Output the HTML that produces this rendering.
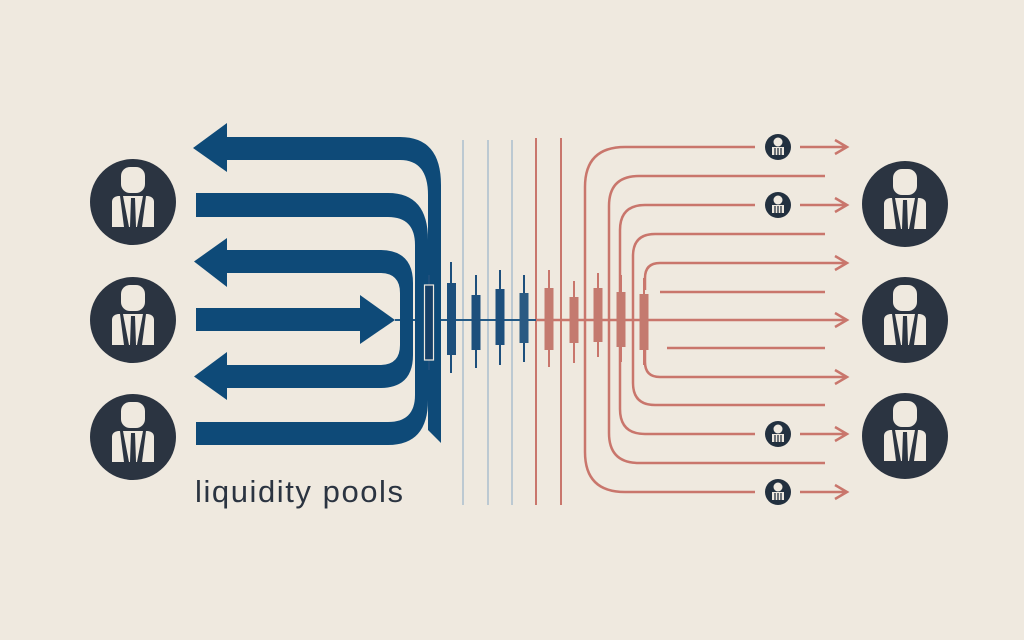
<!DOCTYPE html>
<html><head><meta charset="utf-8"><style>
html,body{margin:0;padding:0;background:#efe9df;}
svg{display:block}
</style></head><body>
<svg width="1024" height="640" viewBox="0 0 1024 640" xmlns="http://www.w3.org/2000/svg">
<defs>
<g id="p">
<circle r="43" fill="#2b3441"/>
<rect x="-12" y="-35" width="24" height="26" rx="9" fill="#efe9df"/>
<path d="M-21,25 V0 Q-21,-5 -15,-6 H15 Q21,-5 21,0 V25 Z" fill="#efe9df"/>
<path d="M-13,-6 L-10,-6 L-4,25 L-9,25 Z M13,-6 L10,-6 L4,25 L9,25 Z M-2,-4 H2 L3,25 H-3 Z" fill="#2b3441"/>
</g>
<g id="s">
<circle r="13" fill="#22303f"/>
<circle cy="-5" r="4.5" fill="#efe9df"/>
<path d="M-6,0 H6 V8 H-6 Z" fill="#efe9df"/>
<path d="M-3,1 V8 M0,1 V8 M3,1 V8" stroke="#22303f" stroke-width="1.3"/>
</g>
</defs>

<g stroke-width="2">
<line x1="463" y1="140" x2="463" y2="505" stroke="#bcc9d2"/>
<line x1="488" y1="140" x2="488" y2="505" stroke="#bcc9d2"/>
<line x1="512" y1="140" x2="512" y2="505" stroke="#bcc9d2"/>
<line x1="536" y1="138" x2="536" y2="505" stroke="#c9766c"/>
<line x1="561" y1="138" x2="561" y2="505" stroke="#c9766c"/>
</g>

<g fill="none" stroke="#c9766c" stroke-width="2.5">
<path d="M755,147 H625 Q585,147 585,187 V452 Q585,492 625,492 H755"/>
<path d="M825,176 H639 Q609,176 609,206 V433 Q609,463 639,463 H825"/>
<path d="M755,205 H645 Q620,205 620,230 V409 Q620,434 645,434 H755"/>
<path d="M825,234 H655 Q633,234 633,256 V383 Q633,405 655,405 H825"/>
<path d="M845,263 H660 Q645,263 645,278 V290 M645,350 V362 Q645,377 660,377 H845"/>
<path d="M660,292 H825 M667,348 H825 M536,320 H845"/>
<path d="M835,256 L847,263 L835,270 M835,313 L847,320 L835,327 M835,370 L847,377 L835,384"/>
<path d="M800,147 H847 M835,140 L847,147 L835,154 M800,205 H847 M835,198 L847,205 L835,212 M800,434 H847 M835,427 L847,434 L835,441 M800,492 H847 M835,485 L847,492 L835,499"/>
</g>
<use href="#s" x="778" y="147"/>
<use href="#s" x="778" y="205"/>
<use href="#s" x="778" y="434"/>
<use href="#s" x="778" y="492"/>

<line x1="395" y1="320" x2="536" y2="320" stroke="#245a85" stroke-width="2"/>

<g fill="#0e4a78">
<path d="M227,137 H400 Q441,137 441,185 V443 L428,430 V195 Q428,160 400,160 H227 Z"/>
<path d="M193,148 L227,123 L227,172 Z"/>
<path d="M196,193 H388 Q428,193 428,240 V400 Q428,445 388,445 H196 V422 H388 Q415,422 415,395 V245 Q415,217 388,217 H196 Z"/>
<path d="M227,250 H380 Q413,250 413,283 V355 Q413,388 380,388 H227 V365 H380 Q400,365 400,345 V293 Q400,273 380,273 H227 Z"/>
<path d="M194,261.5 L227,238 L227,287 Z"/>
<path d="M194,376.5 L227,352 L227,400 Z"/>
<rect x="196" y="308" width="166" height="23"/>
<path d="M360,295 L395,320 L360,344 Z"/>
</g>

<g stroke-width="2">
<line x1="429" y1="275" x2="429" y2="370" stroke="#1d4f7c"/>
<rect x="424.5" y="285" width="9" height="75" fill="#163f66" stroke="#efe9df" stroke-width="1.2"/>
<g stroke="#1d4f7c" fill="#1d4f7c">
<line x1="451" y1="262" x2="451" y2="373"/><rect x="447" y="283" width="9" height="72" stroke="none"/>
<line x1="476" y1="275" x2="476" y2="368"/><rect x="471.5" y="295" width="9" height="55" stroke="none"/>
<line x1="500" y1="270" x2="500" y2="365"/><rect x="495.5" y="289" width="9" height="56" stroke="none"/>
<line x1="524" y1="275" x2="524" y2="362"/><rect x="519.5" y="293" width="9" height="50" stroke="none" fill="#2a5a82"/>
</g>
<g stroke="#c9766c" fill="#c47a6f">
<line x1="549" y1="270" x2="549" y2="367"/><rect x="544.5" y="288" width="9" height="62" stroke="none"/>
<line x1="574" y1="281" x2="574" y2="363"/><rect x="569.5" y="297" width="9" height="46" stroke="none"/>
<line x1="598" y1="273" x2="598" y2="357"/><rect x="593.5" y="288" width="9" height="54" stroke="none"/>
<line x1="621" y1="275" x2="621" y2="362"/><rect x="616.5" y="292" width="9" height="55" stroke="none"/>
<line x1="644" y1="278" x2="644" y2="365"/><rect x="639.5" y="294" width="9" height="56" stroke="none"/>
</g>
</g>

<use href="#p" x="133" y="202"/>
<use href="#p" x="133" y="320"/>
<use href="#p" x="133" y="437"/>
<use href="#p" x="905" y="204"/>
<use href="#p" x="905" y="320"/>
<use href="#p" x="905" y="436"/>

<text x="195" y="502" font-family="Liberation Sans, sans-serif" font-size="31" fill="#2b3441" textLength="208">liquidity pools</text>
</svg>
</body></html>
